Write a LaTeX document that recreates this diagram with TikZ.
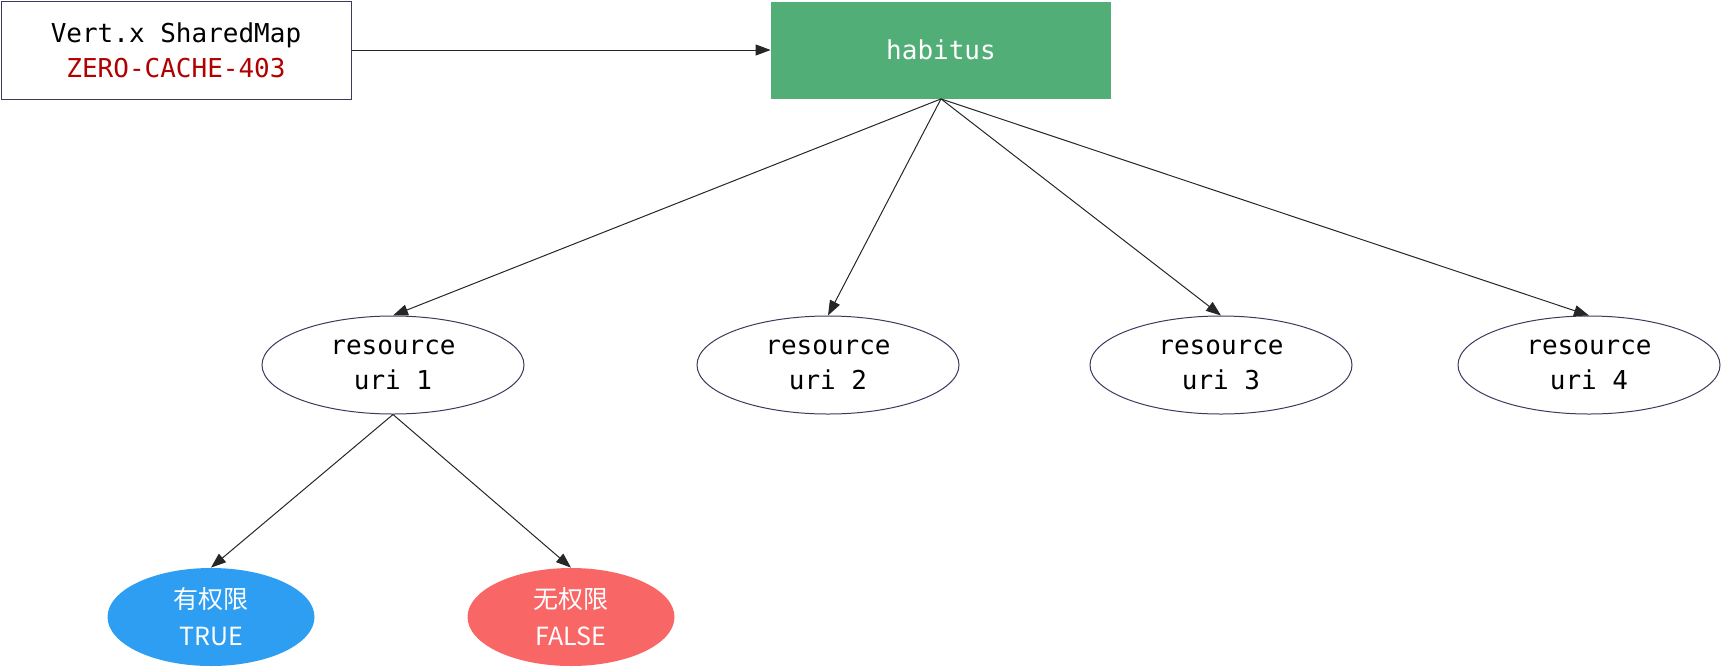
\documentclass[tikz,border=0pt]{standalone}
\usepackage{fontspec}
\setmonofont{DejaVu Sans Mono}
\newfontfamily\cjk{Noto Sans CJK SC}
\usetikzlibrary{arrows.meta}
\usetikzlibrary{shapes.geometric}
\definecolor{habgreen}{HTML}{52AE77}
\definecolor{trublue}{HTML}{2E9EF2}
\definecolor{falred}{HTML}{F96666}
\definecolor{codered}{HTML}{B00000}
\definecolor{rim}{HTML}{3A3A5C}

\begin{document}
\begin{tikzpicture}[x=0.5pt, y=-0.5pt,
  txt/.style={font=\ttfamily\fontsize{13}{17.5}\selectfont, align=center, inner sep=0pt},
  resnode/.style={txt, ellipse, draw=rim, line width=0.5pt, minimum width=131pt, minimum height=49pt},
  leafnode/.style={font=\cjk\fontsize{12.5}{18.5}\selectfont, align=center, inner sep=0pt, ellipse, text=white, minimum width=103.5pt, minimum height=49pt},
  link/.style={draw=black!85, line width=0.5pt, -{Triangle[length=7.5pt, width=5.5pt]}}]
\useasboundingbox (0, 0) rectangle (1724, 670);
% top row
\node [txt, draw=rim, line width=0.5pt, minimum width=175pt, minimum height=49pt] (cache) at (176, 50)
  {Vert.x SharedMap\\\textcolor{codered}{ZERO-CACHE-403}};
\node [txt, fill=habgreen, text=white, minimum width=170pt, minimum height=48.5pt] (habitus) at (941, 50) {habitus};
% resources
\node [resnode] (uri1) at (393,  365) {resource\\uri 1};
\node [resnode] (uri2) at (828,  365) {resource\\uri 2};
\node [resnode] (uri3) at (1221, 365) {resource\\uri 3};
\node [resnode] (uri4) at (1589, 365) {resource\\uri 4};
% answers
\node [leafnode, fill=trublue] (yes) at (211, 617) {有权限\\TRUE};
\node [leafnode, fill=falred]  (no)  at (571, 617) {无权限\\FALSE};
\draw [link] (cache) -- (habitus);
\draw [link] (habitus.south) -- (uri1.north);
\draw [link] (habitus.south) -- (uri2.north);
\draw [link] (habitus.south) -- (uri3.north);
\draw [link] (habitus.south) -- (uri4.north);
\draw [link] (uri1.south) -- (yes.north);
\draw [link] (uri1.south) -- (no.north);
\end{tikzpicture}
\end{document}
